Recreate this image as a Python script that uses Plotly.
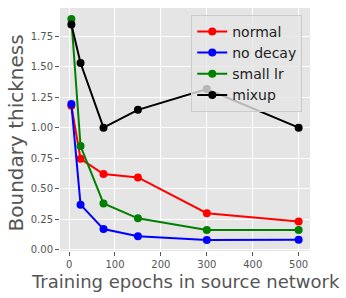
import plotly.graph_objects as go

epochs = [5, 25, 75, 150, 300, 500]
normal = [1.18, 0.745, 0.62, 0.593, 0.30, 0.233]
no_decay = [1.195, 0.37, 0.17, 0.111, 0.081, 0.082]
small_lr = [1.89, 0.85, 0.38, 0.258, 0.163, 0.162]
mixup = [1.845, 1.53, 1.00, 1.146, 1.317, 1.00]

series = [("normal", normal, "#ff0000"), ("no decay", no_decay, "#0000ff"),
          ("small lr", small_lr, "#008000"), ("mixup", mixup, "#000000")]

fig = go.Figure()
for name, vals, col in series:
    fig.add_trace(go.Scatter(x=epochs, y=vals, name=name, mode="lines+markers",
                             line=dict(color=col, width=2),
                             marker=dict(color=col, size=8)))

tickfont = dict(family="DejaVu Sans", size=10, color="#555555")
fig.update_layout(
    width=346, height=298,
    margin=dict(l=60, r=36, t=8, b=47),
    paper_bgcolor="white", plot_bgcolor="#E5E5E5",
    font=dict(family="DejaVu Sans", color="#555555"),
    showlegend=True,
    legend=dict(x=0.525, y=0.972, xanchor="left", yanchor="top",
                bgcolor="rgba(229,229,229,0.8)", bordercolor="#cccccc", borderwidth=1,
                font=dict(size=14, color="#222222"), itemwidth=30,
                tracegroupgap=0),
    xaxis=dict(range=[-19.75, 524.75], tickvals=[0, 100, 200, 300, 400, 500],
               showgrid=True, gridcolor="white", gridwidth=1, zeroline=False,
               ticks="outside", ticklen=4, tickcolor="#555555", tickfont=tickfont,
               automargin=False, showline=False),
    yaxis=dict(range=[-0.0095, 1.98], tickvals=[0, 0.25, 0.5, 0.75, 1.0, 1.25, 1.5, 1.75],
               tickformat=".2f",
               showgrid=True, gridcolor="white", gridwidth=1, zeroline=False,
               ticks="outside", ticklen=4, tickcolor="#555555", tickfont=tickfont,
               automargin=False, showline=False),
    annotations=[
        dict(text="Training epochs in source network", xref="paper", yref="paper",
             x=0.5, y=-0.1255, xanchor="center", yanchor="middle", showarrow=False,
             font=dict(family="DejaVu Sans", size=18, color="#555555")),
        dict(text="Boundary thickness", xref="paper", yref="paper",
             x=-0.178, y=0.4856, xanchor="center", yanchor="middle", showarrow=False,
             textangle=-90,
             font=dict(family="DejaVu Sans", size=20, color="#555555")),
    ],
)
fig.write_html("out.html", config={"displayModeBar": False},
               post_script="document.body.style.margin='0';")
